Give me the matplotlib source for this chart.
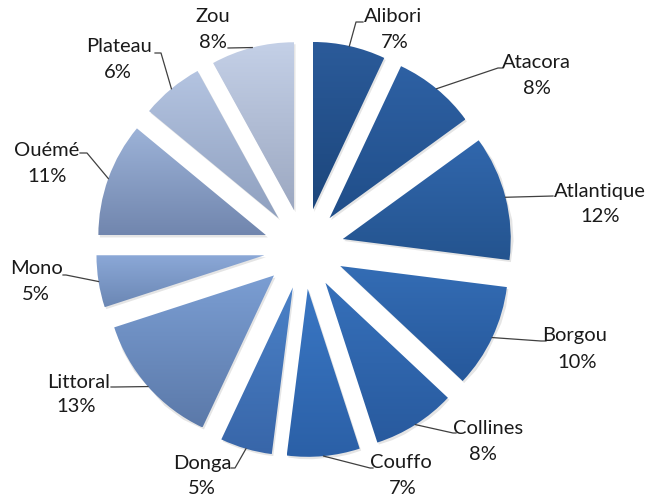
import numpy as np
import matplotlib
matplotlib.use("Agg")
import matplotlib.pyplot as plt
from matplotlib.colors import LinearSegmentedColormap

# share of each department (%)
regions = ["Alibori", "Atacora", "Atlantique", "Borgou", "Collines", "Couffo",
           "Donga", "Littoral", "Mono", "Ouémé", "Plateau", "Zou"]
shares = [7, 8, 12, 10, 8, 7, 5, 13, 5, 11, 6, 8]

# vertical gradient of each slice: light at the top, darker at the bottom
top_colors = ["#2b5b9a", "#2e61a4", "#3167ad", "#346db5", "#3670ba", "#3a77c4",
              "#4b81c7", "#7b9ed3", "#8ba8d7", "#9db3d8", "#b4c4e1", "#c4d0e7"]
bottom_colors = ["#1c467c", "#204e89", "#24548f", "#26589b", "#285a9e", "#2b60a7",
                 "#3866a9", "#5b79a9", "#6b87b4", "#7186ae", "#8fa0bf", "#9ca8c1"]

# label placement, in pixels from the top-left corner
name_pos = [(393, 17), (536, 62), (600, 192), (575, 336), (488, 428), (401, 462),
            (202, 463), (79, 382), (36, 269), (47, 150), (119, 47), (213, 17)]
pct_pos = [(395, 43), (537, 88), (600, 217), (577, 363), (483, 454), (403, 488),
           (202, 488), (76, 407), (36, 295), (47, 177), (118, 73), (213, 43)]
leader_tail = [[(356, 22), (363, 22)], [(498, 68), (503, 68)], [(553, 196)],
               [(541, 341), (546, 341)], [(453, 433), (456, 433)],
               [(370, 468), (373, 468)], [(235, 468), (231, 468)],
               [(115, 387), (111, 387)], [(66, 275), (63, 275)],
               [(87, 153), (80, 153)], [(161, 53), (155, 53)], [(228, 48)]]

W, H = 648, 497
radius = 168
gap = 40   # explode distance, same units as radius

fig = plt.figure(figsize=(W / 100, H / 100), dpi=100)
ax = fig.add_axes([0, 0, 1, 1])

wedges, _ = ax.pie(shares, explode=[gap] * len(shares), radius=radius,
                   center=(304, H - 249), startangle=90, counterclock=False,
                   wedgeprops=dict(linewidth=0))

grad = np.linspace(0, 1, 256).reshape(-1, 1)
for w, c_top, c_bot in zip(wedges, top_colors, bottom_colors):
    w.set_facecolor("none")
    verts = w.get_path().vertices
    # soft drop shadow
    ax.add_patch(plt.Polygon(verts + [1.5, -2], closed=True, facecolor="#000000",
                             alpha=0.10, linewidth=0, zorder=1))
    x0, y0 = verts.min(axis=0)
    x1, y1 = verts.max(axis=0)
    cmap = LinearSegmentedColormap.from_list("g", [c_bot, c_top])
    im = ax.imshow(grad, extent=(x0, x1, y0, y1), cmap=cmap, origin="lower",
                   aspect="auto", interpolation="bicubic", zorder=2)
    im.set_clip_path(w)

# leader lines and labels
for w, name, share, npos, ppos, tail in zip(wedges, regions, shares, name_pos,
                                             pct_pos, leader_tail):
    mid = np.deg2rad((w.theta1 + w.theta2) / 2)
    cx, cy = w.center
    start = (cx + w.r * np.cos(mid), cy + w.r * np.sin(mid))
    xs = [start[0]] + [p[0] for p in tail]
    ys = [start[1]] + [H - p[1] for p in tail]
    ax.plot(xs, ys, color="#404040", lw=0.9, zorder=3)
    ax.text(npos[0], H - npos[1], name, ha="center", va="center",
            fontsize=14.5, family="Lato", color="#1a1a1a")
    ax.text(ppos[0], H - ppos[1], f"{share}%", ha="center", va="center",
            fontsize=14.5, family="Lato", color="#1a1a1a")

ax.set_xlim(0, W)
ax.set_ylim(0, H)
ax.set_aspect("equal")
ax.axis("off")
fig.savefig("out.png", dpi=100, facecolor="white")
